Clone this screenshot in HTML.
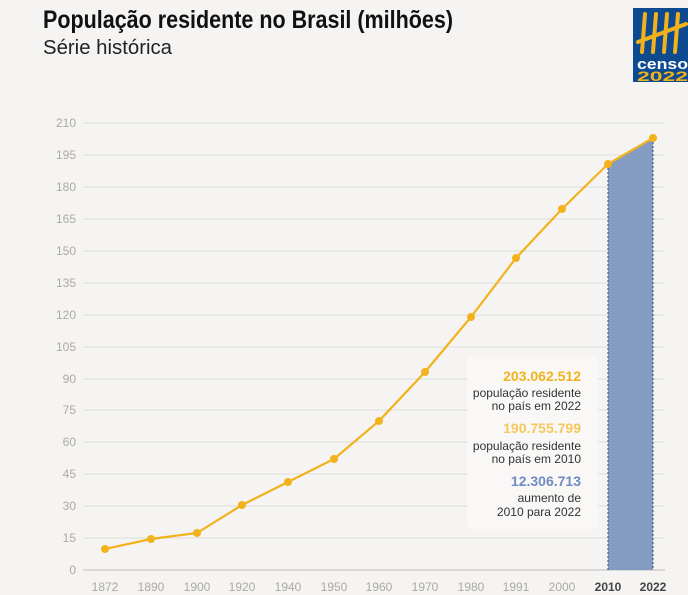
<!DOCTYPE html>
<html><head><meta charset="utf-8"><style>
html,body{margin:0;padding:0;background:#f5f4f2;}
svg{display:block;font-family:"Liberation Sans Narrow","Liberation Sans",sans-serif;}
</style></head><body>
<svg width="688" height="595" viewBox="0 0 688 595" xmlns="http://www.w3.org/2000/svg">
<rect width="688" height="595" fill="#f5f4f2"/>
<text x="43" y="28" font-size="25" font-weight="bold" fill="#111" textLength="410" lengthAdjust="spacingAndGlyphs">População residente no Brasil (milhões)</text>
<text x="43" y="54" font-size="20" fill="#222" textLength="129" lengthAdjust="spacingAndGlyphs">Série histórica</text>
<!-- logo -->
<rect x="633" y="8" width="55" height="74" fill="#0d4a8f"/>
<g stroke="#f2b21b" stroke-width="4" stroke-linecap="round">
<line x1="645" y1="14" x2="642" y2="52"/><line x1="656" y1="14" x2="653" y2="52"/><line x1="667" y1="14" x2="664" y2="52"/><line x1="678" y1="14" x2="675" y2="52"/>
<line x1="638" y1="42" x2="686" y2="24"/>
</g>
<text x="637" y="69" font-size="15" font-weight="bold" fill="#fff" textLength="51" lengthAdjust="spacingAndGlyphs">censo</text>
<text x="637" y="81" font-size="14" font-weight="bold" fill="#f2b21b" textLength="51" lengthAdjust="spacingAndGlyphs">2022</text>
<!-- grid -->
<g stroke="#dcdbd8" stroke-width="1">
<line x1="83" y1="123" x2="665" y2="123"/><line x1="83" y1="155" x2="665" y2="155"/><line x1="83" y1="187" x2="665" y2="187"/><line x1="83" y1="219" x2="665" y2="219"/><line x1="83" y1="251" x2="665" y2="251"/><line x1="83" y1="283" x2="665" y2="283"/><line x1="83" y1="315" x2="665" y2="315"/><line x1="83" y1="347" x2="665" y2="347"/><line x1="83" y1="379" x2="665" y2="379"/><line x1="83" y1="410" x2="665" y2="410"/><line x1="83" y1="442" x2="665" y2="442"/><line x1="83" y1="474" x2="665" y2="474"/><line x1="83" y1="506" x2="665" y2="506"/><line x1="83" y1="538" x2="665" y2="538"/>
</g>
<line x1="83" y1="570" x2="665" y2="570" stroke="#bdbcb9"/>
<g font-size="12" fill="#aaa9a6" text-anchor="end">
<text x="76" y="127">210</text><text x="76" y="159">195</text><text x="76" y="191">180</text><text x="76" y="223">165</text><text x="76" y="255">150</text><text x="76" y="287">135</text><text x="76" y="319">120</text><text x="76" y="351">105</text><text x="76" y="383">90</text><text x="76" y="414">75</text><text x="76" y="446">60</text><text x="76" y="478">45</text><text x="76" y="510">30</text><text x="76" y="542">15</text><text x="76" y="574">0</text>
</g>
<!-- blue area -->
<polygon points="608,164 653,138 653,570 608,570" fill="#849bc2"/>
<g stroke="#2e4a85" stroke-width="1" stroke-dasharray="2,2">
<line x1="608" y1="164" x2="608" y2="570"/><line x1="653" y1="138" x2="653" y2="570"/>
</g>
<!-- info box -->
<rect x="467" y="357" width="131" height="172" rx="5" fill="#f9f8f7"/>
<g text-anchor="end" font-size="12" fill="#333">
<text x="581" y="381" font-size="14" font-weight="bold" fill="#f2b21b">203.062.512</text>
<text x="581" y="397">população residente</text>
<text x="581" y="410">no país em 2022</text>
<text x="581" y="433" font-size="14" font-weight="bold" fill="#f6c85a">190.755.799</text>
<text x="581" y="450">população residente</text>
<text x="581" y="463">no país em 2010</text>
<text x="581" y="486" font-size="14" font-weight="bold" fill="#6f8bc0">12.306.713</text>
<text x="581" y="502">aumento de</text>
<text x="581" y="516">2010 para 2022</text>
</g>
<!-- line -->
<polyline fill="none" stroke="#f2b21b" stroke-width="2.2" points="105,549 151,539 197,533 242,505 288,482 334,459 379,421 425,372 471,317 516,258 562,209 608,164 653,138"/>
<g fill="#f2b21b">
<circle cx="105" cy="549" r="4"/><circle cx="151" cy="539" r="4"/><circle cx="197" cy="533" r="4"/><circle cx="242" cy="505" r="4"/><circle cx="288" cy="482" r="4"/><circle cx="334" cy="459" r="4"/><circle cx="379" cy="421" r="4"/><circle cx="425" cy="372" r="4"/><circle cx="471" cy="317" r="4"/><circle cx="516" cy="258" r="4"/><circle cx="562" cy="209" r="4"/><circle cx="608" cy="164" r="4"/><circle cx="653" cy="138" r="4"/>
</g>
<g font-size="12" fill="#aaa9a6" text-anchor="middle">
<text x="105" y="591">1872</text><text x="151" y="591">1890</text><text x="197" y="591">1900</text><text x="242" y="591">1920</text><text x="288" y="591">1940</text><text x="334" y="591">1950</text><text x="379" y="591">1960</text><text x="425" y="591">1970</text><text x="471" y="591">1980</text><text x="516" y="591">1991</text><text x="562" y="591">2000</text>
<text x="608" y="591" font-weight="bold" fill="#444">2010</text><text x="653" y="591" font-weight="bold" fill="#444">2022</text>
</g>
</svg>
</body></html>
